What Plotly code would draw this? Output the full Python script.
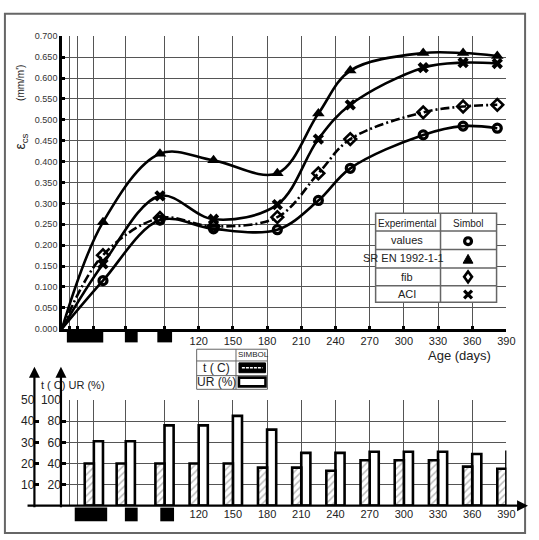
import plotly.graph_objects as go

W, H = 539, 540

# ---------------- data ----------------
age_days = [36, 86, 133, 189, 225, 253, 317, 352, 382]
experimental = [0.115, 0.260, 0.239, 0.237, 0.307, 0.384, 0.464, 0.485, 0.480]
sr_en_1992 = [0.255, 0.419, 0.403, 0.372, 0.515, 0.618, 0.660, 0.660, 0.653]
fib = [0.176, 0.265, 0.245, 0.267, 0.372, 0.454, 0.518, 0.532, 0.536]
aci = [0.155, 0.318, 0.262, 0.297, 0.454, 0.536, 0.625, 0.637, 0.635]

bar_days = [28, 56, 90, 120, 150, 180, 210, 240, 270, 300, 330, 360, 390]
temperature_c = [20, 20, 20, 20, 20, 18, 18, 16.5, 21.5, 21.5, 21.5, 18.5, 17.5]
humidity_pct = [61, 61, 76, 76, 85, 72, 50, 50, 51, 51, 51, 49, 51]

x_tickvals = [0, 7, 14, 28, 56, 90, 120, 150, 180, 210, 240, 270, 300, 330, 360, 390]
x_ticktext = ["", "", "", "", "", "", "120", "150", "180", "210", "240", "270",
              "300", "330", "360", "390"]
y_tickvals = [round(0.05 * i, 2) for i in range(15)]
t_tickvals = [10, 20, 30, 40, 50]
ur_tickvals = [20, 40, 60, 80, 100]


def fx(p):
    return p / W


def fy(p):
    return 1 - p / H


NARROW = "Liberation Sans Narrow, Arial Narrow, Liberation Sans, Arial"
SANS = "Liberation Sans, Arial"

fig = go.Figure()

series = [
    (experimental, "circle-open", 8, "solid", 3.2),
    (sr_en_1992, "triangle-up", 11, "solid", 0),
    (fib, "diamond-open", 9, "9px,3px,2px,3px", 2.6),
    (aci, "x", 10, "solid", 0),
]
for vals, sym, size, dash, mlw in series:
    fig.add_trace(go.Scatter(
        x=[0] + age_days, y=[0] + vals, mode="lines",
        line=dict(color="black", width=2.6, shape="spline", smoothing=1.0, dash=dash),
        xaxis="x", yaxis="y", showlegend=False, hoverinfo="skip"))
    fig.add_trace(go.Scatter(
        x=age_days, y=vals, mode="markers",
        marker=dict(symbol=sym, size=size, color="black",
                    line=dict(color="black", width=mlw)),
        xaxis="x", yaxis="y", showlegend=False))

# bottom bars
fig.add_trace(go.Bar(
    x=bar_days, y=humidity_pct, width=8, offset=0,
    marker=dict(color="white", line=dict(color="black", width=2.6)),
    xaxis="x2", yaxis="y2", showlegend=False))
fig.add_trace(go.Bar(
    x=bar_days, y=temperature_c, width=8, offset=-8,
    marker=dict(color="white", line=dict(color="black", width=2.6),
                pattern=dict(shape="/", fgcolor="#777", bgcolor="white", size=5, solidity=0.3)),
    xaxis="x2", yaxis="y3", showlegend=False))

xdom = [fx(63), fx(515)]
grid = "#555"

fig.update_layout(
    width=W, height=H, autosize=False,
    margin=dict(l=0, r=0, t=0, b=0),
    paper_bgcolor="white", plot_bgcolor="white",
    barmode="overlay",
    xaxis=dict(domain=xdom, range=[0, 390], anchor="y",
               tickmode="array", tickvals=x_tickvals, ticktext=x_ticktext,
               showgrid=True, gridcolor=grid, gridwidth=1.3,
               showline=True, linecolor="black", linewidth=2.5,
               ticks="inside", ticklen=3, tickwidth=3, tickcolor="black",
               tickfont=dict(family=SANS, size=11, color="#222"), zeroline=False),
    yaxis=dict(domain=[fy(329), fy(30)], range=[0, 0.7], anchor="x",
               tickmode="array", tickvals=y_tickvals, tickformat=".3f",
               showgrid=True, gridcolor=grid, gridwidth=1.3,
               showline=True, linecolor="black", linewidth=2.5,
               ticks="inside", ticklen=3, tickwidth=3, tickcolor="black",
               tickfont=dict(family=NARROW, size=9, color="#333"), zeroline=False),
    xaxis2=dict(domain=xdom, range=[0, 390], anchor="y2",
                tickmode="array", tickvals=x_tickvals, ticktext=x_ticktext,
                showgrid=True, gridcolor=grid, gridwidth=1.3, showline=False,
                ticks="", tickfont=dict(family=SANS, size=11, color="#222"), zeroline=False),
    yaxis2=dict(domain=[fy(510), fy(402)], range=[0, 100], anchor="x2",
                tickmode="array", tickvals=ur_tickvals,
                showgrid=True, gridcolor=grid, gridwidth=1.3, showline=False,
                ticks="inside", ticklen=4, tickwidth=2.5, tickcolor="black",
                tickfont=dict(family=SANS, size=12, color="#222"), zeroline=False),
    yaxis3=dict(range=[0, 50], overlaying="y2", anchor="free", position=fx(35),
                tickmode="array", tickvals=t_tickvals, showgrid=False, showline=False,
                ticks="inside", ticklen=4, tickwidth=2.5, tickcolor="black",
                tickfont=dict(family=SANS, size=12, color="#222"), zeroline=False),
)

shapes = []


def rect(x0, y0, x1, y1, fill="rgba(0,0,0,0)", lc="black", lw=0, layer="above"):
    shapes.append(dict(type="rect", xref="paper", yref="paper",
                       x0=fx(x0), x1=fx(x1), y0=fy(y0), y1=fy(y1),
                       fillcolor=fill, line=dict(color=lc, width=lw), layer=layer))


def line(x0, y0, x1, y1, lc="black", lw=1, dash="solid"):
    shapes.append(dict(type="line", xref="paper", yref="paper",
                       x0=fx(x0), x1=fx(x1), y0=fy(y0), y1=fy(y1),
                       line=dict(color=lc, width=lw, dash=dash), layer="above"))


def path(pts, fill, lc="black", lw=1):
    d = "M " + " L ".join(f"{fx(a):.5f},{fy(b):.5f}" for a, b in pts) + " Z"
    shapes.append(dict(type="path", xref="paper", yref="paper", path=d,
                       fillcolor=fill, line=dict(color=lc, width=lw), layer="above"))


# outer frame
rect(5, 7, 534, 538, lc="#666", lw=2)

# black boxes over hidden labels
for a, b in [(68, 105), (127, 140), (160, 175)]:
    rect(a, 330, b, 343, fill="black")
for a, b in [(76, 109), (127, 140), (163, 177)]:
    rect(a, 512, b, 526, fill="black")

# top legend table
rect(382, 211, 505, 302, fill="white", lc="#666", lw=1.5)
for yy in [229, 248, 267, 285]:
    line(382, yy, 505, yy, lc="#666", lw=1.5)
line(448, 211, 448, 302, lc="#666", lw=1.5)
# symbols
shapes.append(dict(type="circle", xref="paper", yref="paper",
                   x0=fx(472.5), x1=fx(479.5), y0=fy(236), y1=fy(243),
                   fillcolor="white", line=dict(color="black", width=3.2), layer="above"))
path([(471, 262), (481, 262), (476, 253)], "black", lw=1)
path([(476, 270.5), (480, 276), (476, 281.5), (472, 276)], "white", lw=2.6)
line(472, 290, 480, 298, lw=3.2)
line(472, 298, 480, 290, lw=3.2)

# bottom legend table
rect(200, 350, 272, 391, fill="white", lc="#666", lw=1)
line(200, 362, 272, 362, lc="#666", lw=1)
line(200, 377, 272, 377, lc="#666", lw=1)
line(240, 350, 240, 391, lc="#666", lw=1)
rect(243, 364, 270, 374, fill="black", lc="black", lw=1)
line(246, 369, 267, 369, lc="white", lw=1.5, dash="3px,1px")
rect(243, 379, 270, 388, fill="white", lc="black", lw=2.6)

fig.update_layout(shapes=shapes)

ann = []


def text(x, y, s, size=11, family=SANS, angle=0, color="#222", xanchor="center"):
    ann.append(dict(x=fx(x), y=fy(y), xref="paper", yref="paper", text=s,
                    showarrow=False, textangle=angle, xanchor=xanchor, yanchor="middle",
                    font=dict(family=family, size=size, color=color)))


def arrow(x, y, ax, ay):
    ann.append(dict(x=fx(x), y=fy(y), xref="paper", yref="paper", text="",
                    showarrow=True, ax=ax, ay=ay, arrowhead=2, arrowsize=1,
                    arrowwidth=2.2, arrowcolor="black"))


text(21, 78, "(mm/m')", size=10, angle=-90)
text(21, 138, "ε<sub>cs</sub>", size=14, angle=-90)
text(467, 356, "Age (days)", size=13)

text(414, 221, "Experimental", size=10, family=NARROW)
text(476, 221, "Simbol", size=10, family=NARROW)
text(414, 238, "values", size=11, family=NARROW)
text(410, 257, "SR EN 1992-1-1", size=11, family=NARROW)
text(414, 276, "fib", size=11, family=NARROW)
text(414, 294, "ACI", size=11, family=NARROW)

text(258, 355, "SIMBOL", size=8, family=NARROW)
text(220, 369, "t ( C)", size=12)
text(220, 384, "UR (%)", size=12)

text(74, 387, "t ( C) UR (%)", size=11, family=NARROW)

arrow(35, 368, 0, 142)
arrow(62, 368, 0, 142)
arrow(537, 510, -502, 0)

fig.update_layout(annotations=ann)

fig.write_html("out.html", config={"displayModeBar": False},
               post_script="document.body.style.margin='0px';")
